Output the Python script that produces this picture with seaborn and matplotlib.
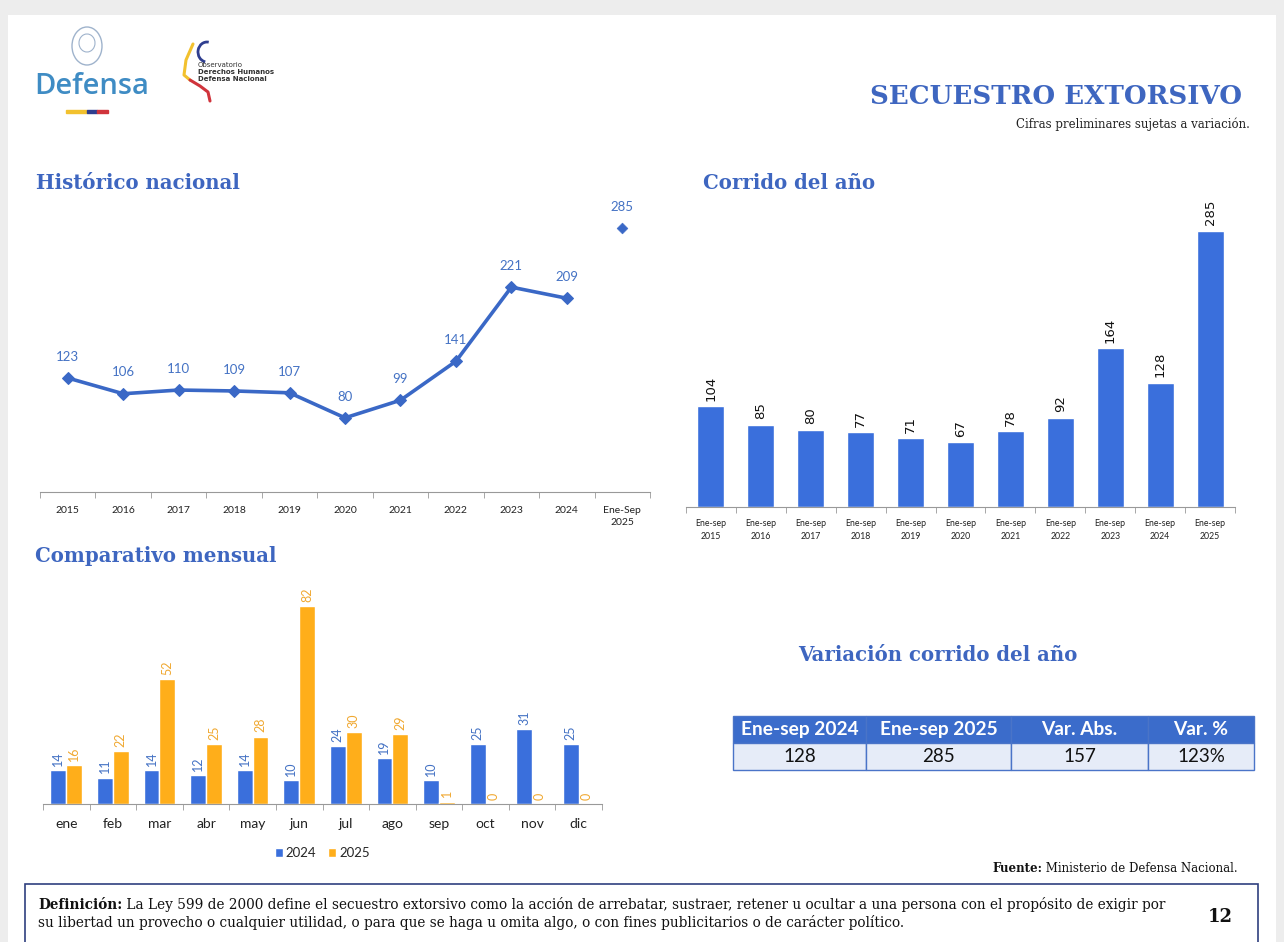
import pandas as pd
import seaborn as sns
import matplotlib.pyplot as plt
from matplotlib.patches import Rectangle, Arc

# ---- data ----
hist_years = ['2015', '2016', '2017', '2018', '2019', '2020', '2021', '2022', '2023', '2024', 'Ene-Sep\n2025']
hist_values = [123, 106, 110, 109, 107, 80, 99, 141, 221, 209, 285]

ytd_labels = ['Ene-sep\n2015', 'Ene-sep\n2016', 'Ene-sep\n2017', 'Ene-sep\n2018', 'Ene-sep\n2019',
              'Ene-sep\n2020', 'Ene-sep\n2021', 'Ene-sep\n2022', 'Ene-sep\n2023', 'Ene-sep\n2024',
              'Ene-sep\n2025']
ytd_values = [104, 85, 80, 77, 71, 67, 78, 92, 164, 128, 285]

months = ['ene', 'feb', 'mar', 'abr', 'may', 'jun', 'jul', 'ago', 'sep', 'oct', 'nov', 'dic']
monthly_2024 = [14, 11, 14, 12, 14, 10, 24, 19, 10, 25, 31, 25]
monthly_2025 = [16, 22, 52, 25, 28, 82, 30, 29, 1, 0, 0, 0]

table_header = ['Ene-sep 2024', 'Ene-sep 2025', 'Var. Abs.', 'Var. %']
table_row = ['128', '285', '157', '123%']

blue = '#3A6FDC'
line_blue = '#3A68C6'
label_blue = '#4472C4'
orange = '#FFAE1A'
label_orange = '#F0A830'
title_blue = '#3E66C0'

sns.set_style('white')
plt.rcParams['font.family'] = ['Lato', 'DejaVu Sans']

W, H = 1284, 942
fig = plt.figure(figsize=(W / 100, H / 100), dpi=100)
fig.patch.set_facecolor('#EDEDED')
renderer = fig.canvas.get_renderer()


def fbox(x0, y0, x1, y1):
    # pixel box (top-left origin) -> figure fraction rect
    return [x0 / W, 1 - y1 / H, (x1 - x0) / W, (y1 - y0) / H]


# ---- page background / decorations ----
bg = fig.add_axes([0, 0, 1, 1], zorder=-5)
bg.set_xlim(0, W)
bg.set_ylim(H, 0)
bg.axis('off')
bg.add_patch(Rectangle((8, 15), 1268, 940, facecolor='white', edgecolor='none'))


def bold_then_plain(x, y, bold, plain, size, ha='left'):
    # bold lead-in word followed by normal text on the same line
    serif = 'DejaVu Serif'
    tb = bg.text(x, y, bold, fontsize=size, fontweight='bold', color='#111111',
                 fontfamily=serif, va='center')
    tp = bg.text(x, y, plain, fontsize=size, color='#111111', fontfamily=serif, va='center')
    wb = tb.get_window_extent(renderer).width
    wp = tp.get_window_extent(renderer).width
    if ha == 'right':
        tb.set_x(x - wb - wp)
        tp.set_x(x - wp)
    else:
        tp.set_x(x + wb)


# logos (approximate)
bg.text(34, 87, 'Defensa', fontsize=21, color='#3F8CC4', fontfamily='Open Sans',
        fontweight='semibold', va='center', ha='left')
bg.add_patch(Rectangle((66, 110), 21, 3, color='#F2C12E'))
bg.add_patch(Rectangle((87, 110), 10, 3, color='#2F3E8F'))
bg.add_patch(Rectangle((97, 110), 11, 3, color='#D0343C'))
bg.add_patch(Arc((87, 46), 30, 38, theta1=0, theta2=360, color='#9FB3CC', lw=1))
bg.add_patch(Arc((87, 43), 16, 18, theta1=0, theta2=360, color='#9FB3CC', lw=0.8))
bg.plot([193, 186, 184, 190], [44, 60, 75, 80], color='#F2C12E', lw=2.2)
bg.plot([190, 200, 208, 210], [80, 86, 92, 101], color='#D0343C', lw=2.2)
bg.add_patch(Arc((207, 52), 18, 20, theta1=100, theta2=280, color='#2F3E8F', lw=2))
bg.text(198, 65, 'Observatorio', fontsize=5, color='#333333', va='center', fontfamily='DejaVu Sans')
bg.text(198, 72, 'Derechos Humanos', fontsize=5, color='#333333', va='center', fontweight='bold',
        fontfamily='DejaVu Sans')
bg.text(198, 79, 'Defensa Nacional', fontsize=5, color='#333333', va='center', fontweight='bold',
        fontfamily='DejaVu Sans')

serif = 'DejaVu Serif'
bg.text(1242, 96, 'SECUESTRO EXTORSIVO', fontsize=18.8, color=title_blue, fontfamily=serif,
        fontweight='bold', ha='right', va='center')
bg.text(1250, 124, 'Cifras preliminares sujetas a variación.', fontsize=8.5, color='#222222',
        fontfamily=serif, ha='right', va='center')
for x, y, t, ha in [(36, 183, 'Histórico nacional', 'left'), (703, 183, 'Corrido del año', 'left'),
                    (35, 556, 'Comparativo mensual', 'left'),
                    (938, 655, 'Variación corrido del año', 'center')]:
    bg.text(x, y, t, fontsize=14.2, color=title_blue, fontfamily=serif, fontweight='bold',
            ha=ha, va='center')

bold_then_plain(1238, 868, 'Fuente:', ' Ministerio de Defensa Nacional.', 8.5, ha='right')

bg.add_patch(Rectangle((25, 884), 1233, 70, facecolor='white', edgecolor='#2F3F7F', lw=1.2))
bold_then_plain(38, 905, 'Definición:', ' La Ley 599 de 2000 define el secuestro extorsivo como la acción '
                'de arrebatar, sustraer, retener u ocultar a una persona con el propósito de exigir por',
                9.8)
bg.text(38, 922, 'su libertad un provecho o cualquier utilidad, o para que se haga u omita algo, o con fines '
        'publicitarios o de carácter político.', fontsize=9.8, color='#111111',
        fontfamily=serif, va='center')
bg.text(1220, 917, '12', fontsize=13, fontweight='bold', color='#111111',
        fontfamily=serif, ha='center', va='center')

# ---- Histórico nacional (line) ----
ax1 = fig.add_axes(fbox(40, 200, 650, 492))
ax1.patch.set_alpha(0)
pos = list(range(len(hist_years)))
sns.lineplot(x=pos[:-1], y=hist_values[:-1], ax=ax1, color=line_blue, lw=2.6,
             marker='D', markersize=6, markeredgecolor=line_blue)
sns.scatterplot(x=pos[-1:], y=hist_values[-1:], ax=ax1, color=line_blue, marker='D', s=30,
                edgecolor=line_blue)
for x, v in zip(pos, hist_values):
    ax1.annotate(str(v), (x, v), xytext=(0, 11), textcoords='offset points', ha='center',
                 va='bottom', fontsize=9.5, color=label_blue)
ax1.set_xlim(-0.5, len(pos) - 0.5)
ax1.set_ylim(0, 315)
ax1.set_xticks(pos)
ax1.set_xticklabels(hist_years, fontsize=7.5, color='#222222', linespacing=1.5)
ax1.set_xticks([p - 0.5 for p in pos] + [len(pos) - 0.5], minor=True)
ax1.tick_params(axis='x', which='major', length=0, pad=10)
ax1.tick_params(axis='x', which='minor', length=4, color='#999999', direction='out', bottom=True)
ax1.set_yticks([])
for s in ['top', 'right', 'left']:
    ax1.spines[s].set_visible(False)
ax1.spines['bottom'].set_color('#999999')

# ---- Corrido del año (bars) ----
ax2 = fig.add_axes(fbox(686, 200, 1235, 507))
ax2.patch.set_alpha(0)
sns.barplot(x=ytd_labels, y=ytd_values, ax=ax2, color=blue, saturation=1, width=0.54)
ax2.bar_label(ax2.containers[0], rotation=90, padding=4, fontsize=9.5, color='#111111',
              fontfamily='DejaVu Sans')
ax2.set_xlim(-0.5, len(ytd_labels) - 0.5)
ax2.set_ylim(0, 317)
ax2.tick_params(axis='x', which='major', length=0, pad=9, labelsize=6.3, labelcolor='#222222')
for lab in ax2.get_xticklabels():
    lab.set_linespacing(1.5)
ax2.set_xticks([p - 0.5 for p in range(len(ytd_labels) + 1)], minor=True)
ax2.tick_params(axis='x', which='minor', length=4, color='#999999', direction='out', bottom=True)
ax2.set_yticks([])
ax2.set_xlabel('')
for s in ['top', 'right', 'left']:
    ax2.spines[s].set_visible(False)
ax2.spines['bottom'].set_color('#999999')

# ---- Comparativo mensual (grouped bars) ----
df = pd.DataFrame({
    'mes': months * 2,
    'año': ['2024'] * len(months) + ['2025'] * len(months),
    'valor': monthly_2024 + monthly_2025,
})
ax3 = fig.add_axes(fbox(43, 580, 602, 804))
ax3.patch.set_alpha(0)
sns.barplot(data=df, x='mes', y='valor', hue='año', palette=[blue, orange], saturation=1,
            width=0.68, ax=ax3)
for cont, c in zip(ax3.containers, [label_blue, label_orange]):
    ax3.bar_label(cont, rotation=90, padding=3, fontsize=9, color=c)
ax3.set_xlim(-0.5, len(months) - 0.5)
ax3.set_ylim(0, 93)
ax3.set_xlabel('')
ax3.set_ylabel('')
ax3.set_yticks([])
ax3.tick_params(axis='x', which='major', length=0, pad=10, labelsize=10, labelcolor='#222222')
ax3.set_xticks([p - 0.5 for p in range(len(months) + 1)], minor=True)
ax3.tick_params(axis='x', which='minor', length=4, color='#999999', direction='out', bottom=True)
for s in ['top', 'right', 'left']:
    ax3.spines[s].set_visible(False)
ax3.spines['bottom'].set_color('#999999')
ax3.legend(loc='upper center', bbox_to_anchor=(0.5, -0.14), ncol=2, frameon=False,
           fontsize=9.5, handlelength=0.6, handleheight=0.6, handletextpad=0.25,
           columnspacing=0.9)

# ---- Variación table ----
ax4 = fig.add_axes(fbox(733, 716, 1254, 770))
ax4.axis('off')
tbl = ax4.table(cellText=[table_header, table_row], cellLoc='center', bbox=[0, 0, 1, 1],
                colWidths=[133, 145, 137, 106])
tbl.auto_set_font_size(False)
for (r, c), cell in tbl.get_celld().items():
    cell.set_edgecolor('#4A74C8')
    cell.set_linewidth(1)
    if r == 0:
        cell.set_facecolor('#3B6CCB')
        cell.get_text().set_color('white')
        cell.get_text().set_fontweight('bold')
        cell.get_text().set_fontsize(13.8)
    else:
        cell.set_facecolor('#E6ECF8')
        cell.get_text().set_color('#111111')
        cell.get_text().set_fontsize(13.5)

fig.savefig('out.png', dpi=100, facecolor=fig.get_facecolor())
